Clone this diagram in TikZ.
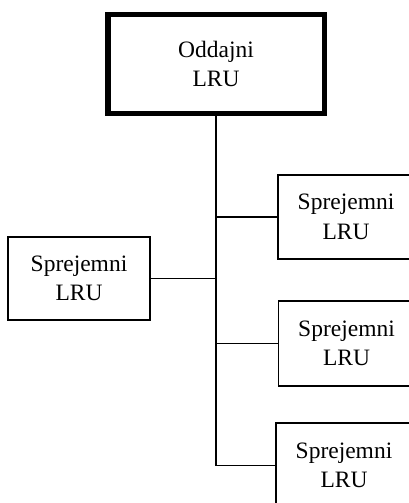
\documentclass[tikz,border=0pt]{standalone}
\usepackage{fontspec}
\setmainfont{Liberation Serif}
\begin{document}
\begin{tikzpicture}[x=1pt,y=-1pt,
  box/.style={draw, line width=1.6pt, align=center, inner sep=0pt,
    font=\fontsize{23.5}{29.5}\selectfont},
  link/.style={line width=1.6pt}]
\useasboundingbox (0,0) rectangle (409,503);
\clip (0,0) rectangle (409,503);
\node[box, line width=5.5pt, minimum width=216.5pt, minimum height=98.5pt] (top) at (216,64) {Oddajni\\LRU};
\node[box, minimum width=142pt, minimum height=83pt] (l1) at (79,278.5) {Sprejemni\\LRU};
\node[box, minimum width=136pt, minimum height=84pt] (r1) at (346,217) {Sprejemni\\LRU};
\node[box, minimum width=136pt, minimum height=85pt] (r2) at (346.5,343.5) {Sprejemni\\LRU};
\node[box, minimum width=136pt, minimum height=85pt] (r3) at (344,465.5) {Sprejemni\\LRU};
\coordinate (bot) at (r3.west -| top.south);
\draw[link] (top.south) -- (bot);
\draw[link] (l1.east) -- (l1.east -| top.south);
\draw[link] (r1.west) -- (r1.west -| top.south);
\draw[link] (r2.west) -- (r2.west -| top.south);
\draw[link] (r3.west) -- (bot);
\end{tikzpicture}
\end{document}
